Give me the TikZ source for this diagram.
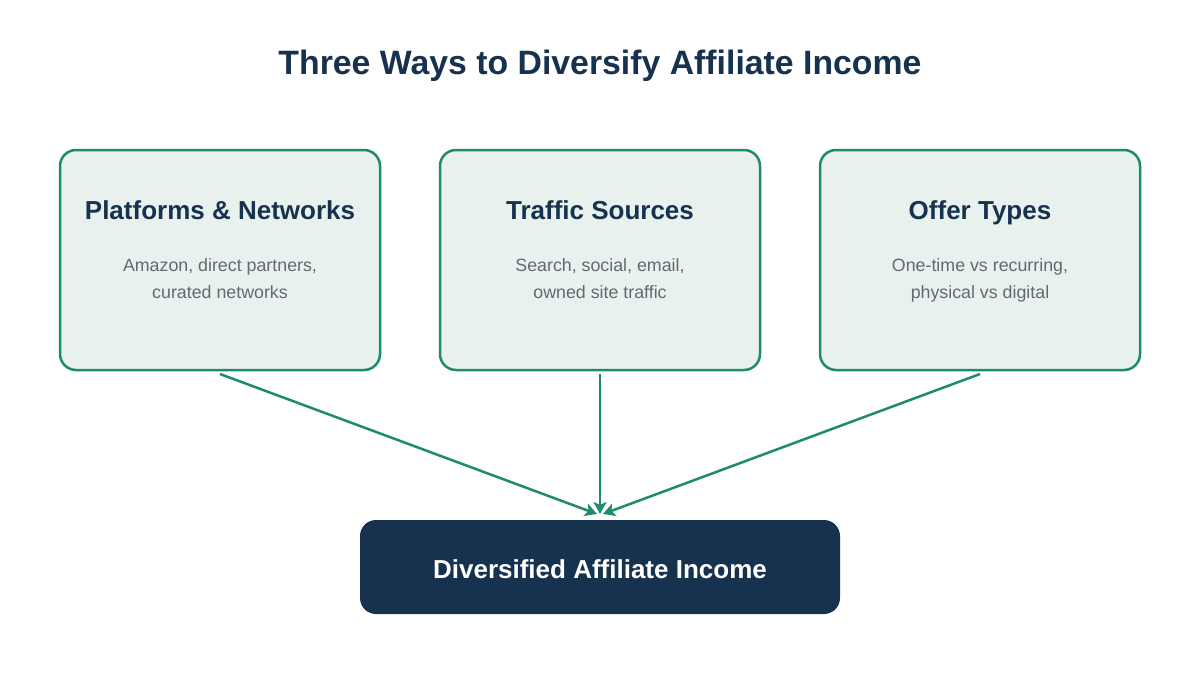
\documentclass[tikz,border=0pt]{standalone}
\usepackage{fontspec}
\setmainfont{Liberation Sans}
\usetikzlibrary{arrows.meta}
\definecolor{navy}{HTML}{17324F}
\definecolor{teal}{HTML}{1E8A6E}
\definecolor{pale}{HTML}{E8F1EE}
\definecolor{greytext}{HTML}{5F6B73}
\begin{document}
\begin{tikzpicture}[x=1pt,y=-1pt,
  card/.style={draw=teal,line width=2.5pt,fill=pale,rounded corners=16pt,minimum width=320pt,minimum height=220pt,inner sep=0pt},
  heading/.style={anchor=base,inner sep=0pt,font=\fontsize{26}{30}\selectfont\bfseries,text=navy},
  desc/.style={anchor=base,inner sep=0pt,font=\fontsize{17.8}{22}\selectfont,text=greytext},
  flow/.style={draw=teal,line width=2.5pt,-{Stealth[length=12pt,width=13pt,inset=3pt]}}
]
\useasboundingbox (0,0) rectangle (1200,675);
\fill[white] (0,0) rectangle (1200,675);
\node[anchor=base,inner sep=0pt,font=\fontsize{33.8}{38}\selectfont\bfseries,text=navy] (title) at (600,74) {Three Ways to Diversify Affiliate Income};
\node[card] (c1) at (220,260) {};
\node[card] (c2) at (600,260) {};
\node[card] (c3) at (980,260) {};
\node[heading] (h1) at (220,219.5) {Platforms \& Networks};
\node[heading] (h2) at (600,219.5) {Traffic Sources};
\node[heading] (h3) at (980,219.5) {Offer Types};
\node[desc] (d1a) at (220,271.5) {Amazon, direct partners,};
\node[desc] (d1b) at (220,298.5) {curated networks};
\node[desc] (d2a) at (600,271.5) {Search, social, email,};
\node[desc] (d2b) at (600,298.5) {owned site traffic};
\node[desc] (d3a) at (980,271.5) {One-time vs recurring,};
\node[desc] (d3b) at (980,298.5) {physical vs digital};
\node[fill=navy,rounded corners=16pt,minimum width=480pt,minimum height=94pt,inner sep=0pt] (out) at (600,567) {};
\node[anchor=base,inner sep=0pt,font=\fontsize{26}{30}\selectfont\bfseries,text=white] (outlabel) at (600,578) {Diversified Affiliate Income};
\coordinate (s1) at (220,374);
\coordinate (s2) at (600,374);
\coordinate (s3) at (980,374);
\coordinate (e1) at (597,514);
\coordinate (e2) at (600,514);
\coordinate (e3) at (603,514);
\draw[flow] (s1) -- (e1);
\draw[flow] (s2) -- (e2);
\draw[flow] (s3) -- (e3);
\end{tikzpicture}
\end{document}
